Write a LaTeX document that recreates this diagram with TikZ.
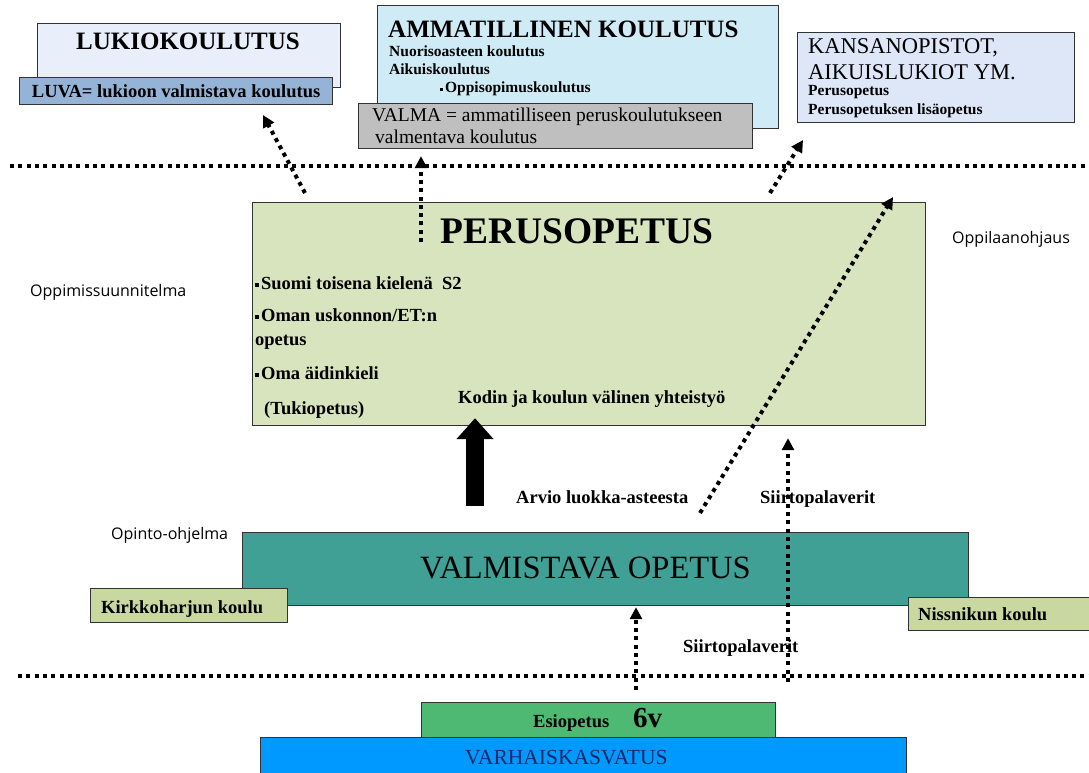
\documentclass[tikz,border=0pt]{standalone}
\usepackage{fontspec}
\setmainfont{Liberation Serif}
\newfontfamily\labelsans{Open Sans}
\usetikzlibrary{arrows.meta,calc,positioning}

\definecolor{lukioFill}{RGB}{232,238,250}
\definecolor{luvaFill}{RGB}{149,179,215}
\definecolor{ammFill}{RGB}{207,236,246}
\definecolor{valmaFill}{RGB}{191,191,191}
\definecolor{kansFill}{RGB}{222,231,248}
\definecolor{perusFill}{RGB}{215,228,189}
\definecolor{valmFill}{RGB}{64,160,150}
\definecolor{kouluFill}{RGB}{200,216,160}
\definecolor{esiFill}{RGB}{78,185,115}
\definecolor{varhFill}{RGB}{0,153,255}
\definecolor{varhText}{RGB}{20,40,100}

\newcommand{\sqbullet}{\raisebox{0.28ex}{\rule{0.2em}{0.2em}}\kern0.12em}

\begin{document}
\begin{tikzpicture}[x=1pt, y=-1pt,
    box/.style={rectangle, draw=black!80, line width=1.2pt, inner sep=0pt, anchor=north west},
    txt/.style={inner sep=0pt, anchor=base west},
    headfont/.style={font=\fontsize{25}{28}\selectfont\bfseries},
    smallfont/.style={font=\fontsize{15.5}{18}\selectfont\bfseries},
    bodyfont/.style={font=\fontsize{18.5}{22}\selectfont\bfseries},
    sansfont/.style={font=\labelsans\fontsize{16}{19}\selectfont},
    dotline/.style={line width=4pt, dash pattern=on 4pt off 4.3pt},
    dotarrow/.style={dotline, -{Triangle[length=12pt,width=12pt]}},
    bigarrow/.style={line width=18pt, -{Triangle[length=21pt,width=36pt]}}]
    \useasboundingbox (0,0) rectangle (1089,773);

    %% separators
    \draw[dotline] (10,166) -- (1089,166);
    \draw[dotline] (18,676) -- (1089,676);

    %% Upper secondary
    \node[box, fill=lukioFill, minimum width=303pt, minimum height=64pt] (lukio) at (37,23) {};
    \node[headfont, anchor=base] (lukiot) at (188,50) {LUKIOKOULUTUS};
    \node[box, fill=luvaFill, minimum width=313pt, minimum height=27pt, font=\fontsize{18.5}{22}\selectfont\bfseries] (luva) at (19,77) {LUVA= lukioon valmistava koulutus};

    \node[box, fill=ammFill, minimum width=401pt, minimum height=123pt] (amm) at (377,5) {};
    \node[txt, headfont] (ammt) at (388,38) {AMMATILLINEN KOULUTUS};
    \node[txt, smallfont] (amm1) at (389,57) {Nuorisoasteen koulutus};
    \node[txt, smallfont] (amm2) at (389,75) {Aikuiskoulutus};
    \node[txt, smallfont] (amm3) at (440,93) {\sqbullet Oppisopimuskoulutus};
    \node[box, fill=valmaFill, minimum width=394pt, minimum height=45pt] (valma) at (358,103) {};
    \node[txt, font=\fontsize{19.5}{22}\selectfont] (valma1) at (372,122) {VALMA = ammatilliseen peruskoulutukseen};
    \node[txt, font=\fontsize{19.5}{22}\selectfont] (valma2) at (375,143) {valmentava koulutus};

    \node[box, fill=kansFill, minimum width=277pt, minimum height=90pt] (kans) at (797,32) {};
    \node[txt, font=\fontsize{22.5}{26}\selectfont] (kans1) at (808,54) {KANSANOPISTOT,};
    \node[txt, font=\fontsize{22.5}{26}\selectfont] (kans2) at (808,80) {AIKUISLUKIOT YM.};
    \node[txt, smallfont] (kans3) at (808,96) {Perusopetus};
    \node[txt, smallfont] (kans4) at (808,114) {Perusopetuksen lisäopetus};

    %% Basic education
    \node[box, fill=perusFill, minimum width=673pt, minimum height=223pt] (perus) at (252,202) {};
    \node[font=\fontsize{37.5}{40}\selectfont\bfseries, inner sep=0pt, anchor=base] (perust) at (577,243) {PERUSOPETUS};
    \node[txt, bodyfont] (p1) at (255,289) {\sqbullet Suomi toisena kielenä\ \ S2};
    \node[txt, bodyfont] (p2) at (255,321) {\sqbullet Oman uskonnon/ET:n};
    \node[txt, bodyfont] (p3) at (255,345) {opetus};
    \node[txt, bodyfont] (p4) at (255,379) {\sqbullet Oma äidinkieli};
    \node[txt, bodyfont] (p5) at (264,414) {(Tukiopetus)};
    \node[txt, bodyfont] (p6) at (458,403) {Kodin ja koulun välinen yhteistyö};

    \node[txt, sansfont] (ops) at (30,296) {Oppimissuunnitelma};
    \node[txt, sansfont] (ohj) at (952,243) {Oppilaanohjaus};

    %% Preparatory education
    \node[box, fill=valmFill, minimum width=726pt, minimum height=73pt] (valm) at (242,532) {};
    \node[txt, font=\fontsize{32.5}{35}\selectfont] (valmt) at (420,578) {VALMISTAVA OPETUS};
    \node[txt, sansfont] (opo) at (111,539) {Opinto-ohjelma};
    \node[box, fill=kouluFill, minimum width=197pt, minimum height=34pt] (kirkko) at (90,588) {};
    \node[txt, bodyfont] (kirkkot) at (101,613) {Kirkkoharjun koulu};
    \node[box, fill=kouluFill, minimum width=200pt, minimum height=33pt] (niss) at (908,597) {};
    \node[txt, bodyfont] (nisst) at (918,620) {Nissnikun koulu};

    \node[txt, bodyfont] (arvio) at (516,503) {Arvio luokka-asteesta};
    \node[txt, bodyfont] (siirto1) at (760,503) {Siirtopalaverit};
    \node[txt, bodyfont] (siirto2) at (683,652) {Siirtopalaverit};

    %% Early childhood
    \node[box, fill=varhFill, minimum width=646pt, minimum height=50pt] (varh) at (260,737) {};
    \node[txt, font=\fontsize{21.5}{24}\selectfont, text=varhText] (varht) at (465,764) {VARHAISKASVATUS};
    \node[box, fill=esiFill, minimum width=354pt, minimum height=35pt] (esi) at (421,702) {};
    \node[txt, bodyfont] (esit) at (533,727) {Esiopetus};
    \node[txt, font=\fontsize{29}{32}\selectfont\bfseries] (esiv) at (633,727) {6v};

    %% connectors
    \coordinate (luvaTail) at (305,193);
    \coordinate (luvaTip) at (263,115);
    \coordinate (valmaTail) at (421,242);
    \coordinate (kansTail) at (770,193);
    \coordinate (kansTip) at (803,140);
    \coordinate (diagTail) at (700,513);
    \coordinate (diagTip) at (893,197);
    \coordinate (siirtoTail) at (788,682);
    \coordinate (esiTail) at (636,690);
    \coordinate (bigTail) at (475,506);

    \draw[dotarrow] (luvaTail) -- (luvaTip);
    \draw[dotarrow, shorten >=7pt] (valmaTail) -- (valmaTail |- valma.south);
    \draw[dotarrow] (kansTail) -- (kansTip);
    \draw[dotarrow] (diagTail) -- (diagTip);
    \draw[dotarrow, shorten >=12pt] (siirtoTail) -- (siirtoTail |- perus.south);
    \draw[dotarrow, shorten >=1pt] (esiTail) -- (esiTail |- valm.south);
    \draw[bigarrow, shorten >=-8pt] (bigTail) -- (bigTail |- perus.south);
\end{tikzpicture}
\end{document}
